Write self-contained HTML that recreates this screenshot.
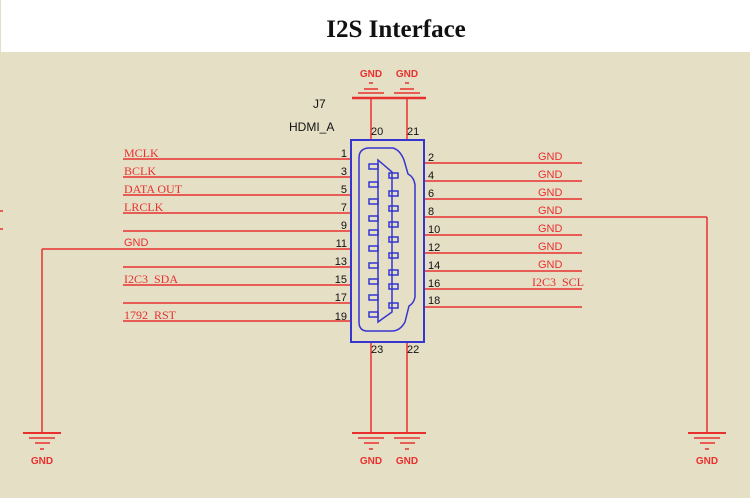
<!DOCTYPE html>
<html><head><meta charset="utf-8"><style>
html,body{margin:0;padding:0;width:750px;height:498px;overflow:hidden;background:#e5dfc6}
svg{display:block}
</style></head><body>
<svg width="750" height="498" xmlns="http://www.w3.org/2000/svg">
<rect x="0" y="0" width="750" height="498" fill="#e5dfc6"/>
<rect x="1" y="0" width="749" height="52" fill="#ffffff"/>
<text x="396" y="37" text-anchor="middle" font-family="Liberation Serif, serif" font-weight="bold" font-size="25" fill="#111">I2S Interface</text>

<g stroke="#e8302f" stroke-width="1.5" fill="none">
<line x1="123" y1="159" x2="351" y2="159"/>
<line x1="123" y1="177" x2="351" y2="177"/>
<line x1="123" y1="195" x2="351" y2="195"/>
<line x1="123" y1="213" x2="351" y2="213"/>
<line x1="123" y1="231" x2="351" y2="231"/>
<line x1="42" y1="249" x2="351" y2="249"/>
<line x1="123" y1="267" x2="351" y2="267"/>
<line x1="123" y1="285" x2="351" y2="285"/>
<line x1="123" y1="303" x2="351" y2="303"/>
<line x1="123" y1="321" x2="351" y2="321"/>
<line x1="0" y1="211" x2="3" y2="211"/>
<line x1="0" y1="229" x2="3" y2="229"/>
<line x1="42" y1="249" x2="42" y2="433"/>
<line x1="424" y1="163" x2="582" y2="163"/>
<line x1="424" y1="181" x2="582" y2="181"/>
<line x1="424" y1="199" x2="582" y2="199"/>
<line x1="424" y1="217" x2="707" y2="217"/>
<line x1="424" y1="235" x2="582" y2="235"/>
<line x1="424" y1="253" x2="582" y2="253"/>
<line x1="424" y1="271" x2="582" y2="271"/>
<line x1="424" y1="289" x2="582" y2="289"/>
<line x1="424" y1="307" x2="582" y2="307"/>
<line x1="707" y1="217" x2="707" y2="433"/>
<line x1="371" y1="98" x2="371" y2="140"/>
<line x1="407" y1="98" x2="407" y2="140"/>
<line x1="371" y1="342" x2="371" y2="433"/>
<line x1="407" y1="342" x2="407" y2="433"/>
</g>

<g stroke="#e8302f" fill="none">
<line x1="352" y1="98" x2="426" y2="98" stroke-width="2.5"/>
<line x1="358" y1="93" x2="384" y2="93" stroke-width="1.5"/>
<line x1="394" y1="93" x2="420" y2="93" stroke-width="1.5"/>
<line x1="364" y1="89" x2="378" y2="89" stroke-width="1.5"/>
<line x1="400" y1="89" x2="414" y2="89" stroke-width="1.5"/>
<line x1="369" y1="83" x2="373" y2="83" stroke-width="1.5"/>
<line x1="405" y1="83" x2="409" y2="83" stroke-width="1.5"/>
<g id="g1">
<line x1="23" y1="433" x2="61" y2="433" stroke-width="2"/>
<line x1="29" y1="438" x2="55" y2="438" stroke-width="1.5"/>
<line x1="35" y1="443" x2="50" y2="443" stroke-width="1.5"/>
<line x1="40" y1="449" x2="44" y2="449" stroke-width="1.5"/>
</g>
<use href="#g1" x="329"/>
<use href="#g1" x="365"/>
<use href="#g1" x="665"/>
</g>

<g font-family="Liberation Sans, sans-serif" font-weight="bold" font-size="10" fill="#e8302f" text-anchor="middle">
<text x="371" y="77">GND</text><text x="407" y="77">GND</text>
<text x="42" y="464">GND</text><text x="371" y="464">GND</text><text x="407" y="464">GND</text><text x="707" y="464">GND</text>
</g>

<g font-family="Liberation Sans, sans-serif" font-size="11" fill="#e8302f">
<text x="538" y="160">GND</text><text x="538" y="178">GND</text><text x="538" y="196">GND</text><text x="538" y="214">GND</text>
<text x="538" y="232">GND</text><text x="538" y="250">GND</text><text x="538" y="268">GND</text>
<text x="124" y="246">GND</text>
</g>
<g font-family="Liberation Serif, serif" font-size="12" fill="#e8302f">
<text x="124" y="157">MCLK</text><text x="124" y="175">BCLK</text><text x="124" y="193">DATA OUT</text><text x="124" y="211">LRCLK</text>
<text x="124" y="283" xml:space="preserve">I2C3  SDA</text><text x="124" y="319" xml:space="preserve">1792  RST</text>
<text x="532" y="286" xml:space="preserve">I2C3  SCL</text>
</g>

<g font-family="Liberation Sans, sans-serif" font-size="11" fill="#111" text-anchor="end">
<text x="347" y="157">1</text><text x="347" y="175">3</text><text x="347" y="193">5</text><text x="347" y="211">7</text><text x="347" y="229">9</text>
<text x="347" y="247">11</text><text x="347" y="265">13</text><text x="347" y="283">15</text><text x="347" y="301">17</text><text x="347" y="320">19</text>
</g>
<g font-family="Liberation Sans, sans-serif" font-size="11" fill="#111">
<text x="428" y="161">2</text><text x="428" y="179">4</text><text x="428" y="197">6</text><text x="428" y="215">8</text><text x="428" y="233">10</text>
<text x="428" y="251">12</text><text x="428" y="269">14</text><text x="428" y="287">16</text><text x="428" y="304">18</text>
<text x="371" y="135">20</text><text x="407" y="135">21</text>
<text x="371" y="353">23</text><text x="407" y="353">22</text>
<text x="313" y="108" font-size="12">J7</text>
<text x="289" y="131" font-size="12">HDMI_A</text>
</g>

<g stroke="#3535d0" fill="none" stroke-width="1.5">
<rect x="351" y="140" width="73" height="202" stroke-width="2"/>
<path d="M368 148 L393 148 Q400 150 404 160 L408 174 Q414 177 415 185 L415 297 Q414 303 409 306 L405 322 Q400 331 392 331 L366 331 Q359 330 359 322 L359 158 Q359 149 368 148 Z"/>
<path d="M378 160 L378 322 L392 312 L392 172 Z"/>
<g>
<rect x="369" y="164" width="9" height="5"/><rect x="369" y="182" width="9" height="5"/><rect x="369" y="199" width="9" height="5"/>
<rect x="369" y="216" width="9" height="5"/><rect x="369" y="230" width="9" height="5"/><rect x="369" y="246" width="9" height="5"/>
<rect x="369" y="263" width="9" height="5"/><rect x="369" y="279" width="9" height="5"/><rect x="369" y="295" width="9" height="5"/>
<rect x="369" y="312" width="9" height="5"/>
<rect x="389" y="173" width="9" height="5"/><rect x="389" y="191" width="9" height="5"/><rect x="389" y="206" width="9" height="5"/>
<rect x="389" y="222" width="9" height="5"/><rect x="389" y="237" width="9" height="5"/><rect x="389" y="253" width="9" height="5"/>
<rect x="389" y="270" width="9" height="5"/><rect x="389" y="284" width="9" height="5"/><rect x="389" y="303" width="9" height="5"/>
</g>
</g>
</svg>
</body></html>
